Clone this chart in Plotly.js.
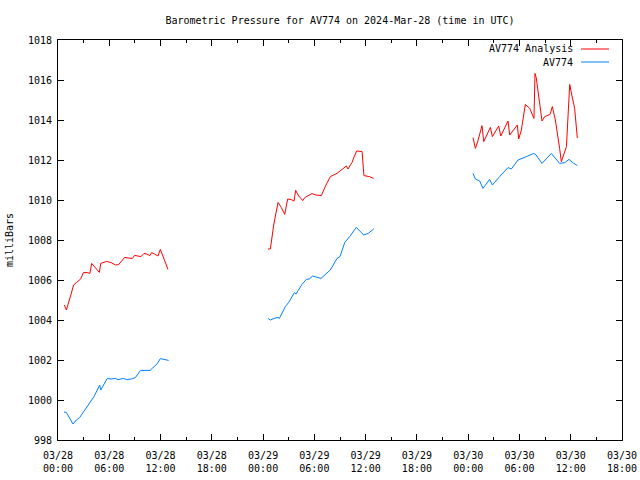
<!DOCTYPE html>
<html>
<head>
<meta charset="utf-8">
<script src="https://cdn.plot.ly/plotly-3.0.1.min.js"></script>
<style>html,body{margin:0;padding:0;background:#fff;}#chart{width:640px;height:480px;}</style>
</head>
<body>
<div id="chart"></div>
<script>
// Hours after 2024-03-28 00:00 UTC, and pressure values (mbar)
var redHours1 = [0.74,0.98,1.4,1.83,2.15,2.65,2.97,3.4,3.74,3.94,4.3,4.84,5.0,5.7,6.2,6.75,7.1,7.5,7.8,8.2,8.7,8.97,9.4,9.7,10.06,10.4,10.75,10.96,11.3,11.7,11.98,12.3,12.87];
var redVals1  = [1004.75,1004.5,1005.1,1005.75,1005.87,1006.05,1006.37,1006.37,1006.33,1006.83,1006.65,1006.38,1006.83,1006.93,1006.87,1006.75,1006.77,1006.95,1007.13,1007.1,1007.08,1007.23,1007.2,1007.17,1007.33,1007.3,1007.22,1007.37,1007.3,1007.2,1007.53,1007.2,1006.53];
var redHours2 = [24.58,24.85,25.24,25.75,26.14,26.53,26.88,27.3,27.62,27.81,28.17,28.64,28.87,29.3,29.72,30.2,30.82,31.3,31.87,32.65,33.24,33.74,33.94,34.41,34.6,34.95,35.58,35.8,36.43,36.94];
var redVals2  = [1007.55,1007.55,1008.75,1009.88,1009.62,1009.28,1010.05,1010.02,1009.95,1010.48,1010.2,1009.97,1010.12,1010.22,1010.32,1010.25,1010.22,1010.7,1011.17,1011.33,1011.55,1011.7,1011.55,1011.88,1012.1,1012.45,1012.42,1011.22,1011.17,1011.08];
var redHours3 = [48.57,48.84,49.1,49.62,49.82,50.6,50.83,51.57,51.81,52.66,52.86,53.75,53.91,54.22,54.69,55.2,55.7,55.82,55.97,56.29,56.64,56.96,57.58,57.85,58.2,58.7,58.9,59.5,59.88,60.1,60.46,60.77];
var redVals3  = [1013.12,1012.58,1012.9,1013.72,1012.92,1013.63,1013.17,1013.7,1013.2,1013.95,1013.25,1013.75,1013.05,1013.5,1014.78,1014.58,1014.08,1016.33,1016.1,1015.08,1013.95,1014.17,1014.28,1014.67,1014.0,1012.58,1011.92,1012.67,1015.78,1015.3,1014.58,1013.1];

var blueHours1 = [0.70,0.98,1.76,2.15,2.53,3.12,3.7,4.21,4.6,4.88,5.0,5.46,5.77,6.2,6.71,7.02,7.68,8.0,8.58,9.05,9.67,10.77,11.31,11.62,11.98,12.3,12.95];
var blueVals1  = [999.4,999.38,998.8,999.0,999.12,999.5,999.83,1000.17,1000.5,1000.75,1000.5,1000.88,1001.08,1001.05,1001.08,1001.02,1001.08,1001.02,1001.05,1001.12,1001.48,1001.48,1001.72,1001.82,1002.07,1002.03,1001.98];
var blueHours2 = [24.58,24.85,25.3,25.75,25.9,26.6,27.0,27.66,27.85,28.55,29.06,29.4,29.8,30.3,30.78,31.87,32.65,33.0,33.55,34.13,34.91,35.77,36.3,36.94];
var blueVals2  = [1004.08,1004.0,1004.08,1004.13,1004.08,1004.67,1004.88,1005.37,1005.3,1005.78,1006.03,1006.05,1006.2,1006.12,1006.08,1006.5,1007.08,1007.17,1007.87,1008.17,1008.63,1008.25,1008.33,1008.55];
var blueHours3 = [48.57,48.84,49.35,49.73,50.51,50.83,51.68,52.66,53.05,53.83,54.81,55.67,55.95,56.64,57.73,58.1,58.7,59.3,59.8,60.3,60.77];
var blueVals3  = [1011.33,1011.05,1010.95,1010.58,1011.03,1010.75,1011.17,1011.62,1011.55,1012.0,1012.17,1012.33,1012.25,1011.83,1012.33,1012.15,1011.83,1011.87,1012.03,1011.85,1011.72];

var seriesNames = ["AV774 Analysis", "AV774"];
var titleText = "Barometric Pressure for AV774 on 2024-Mar-28 (time in UTC)";

var BASE = Date.UTC(2024, 2, 28, 0, 0, 0);
function toDate(h) {
  if (h === null) return null;
  var d = new Date(BASE + Math.round(h * 3600000));
  return d.toISOString().slice(0, 19).replace("T", " ");
}
function joinSegs(segs) {
  var out = [];
  segs.forEach(function (s, i) { if (i > 0) out.push(null); out = out.concat(s); });
  return out;
}

var redX = joinSegs([redHours1, redHours2, redHours3]).map(toDate);
var redY = joinSegs([redVals1, redVals2, redVals3]);
var blueX = joinSegs([blueHours1, blueHours2, blueHours3]).map(toDate);
var blueY = joinSegs([blueVals1, blueVals2, blueVals3]);

var FONT = "DejaVu Sans Mono, monospace";
var RED = "#ff0000", BLUE = "#0080ff";

var traces = [
  {x: redX, y: redY, type: "scatter", mode: "lines", name: seriesNames[0],
   line: {color: RED, width: 1}, connectgaps: false, showlegend: false},
  {x: blueX, y: blueY, type: "scatter", mode: "lines", name: seriesNames[1],
   line: {color: BLUE, width: 1}, connectgaps: false, showlegend: false}
];

var layout = {
  width: 640, height: 480,
  margin: {l: 58, r: 18, t: 40, b: 40},
  paper_bgcolor: "#fff", plot_bgcolor: "#fff",
  font: {family: FONT, size: 10, color: "#000"},
  title: {text: titleText, font: {family: FONT, size: 10, color: "#000"},
          x: 0.5, xref: "paper", y: 1 - 20 / 480, yref: "container", yanchor: "middle"},
  xaxis: {
    type: "date",
    range: ["2024-03-28 00:00", "2024-03-30 18:00"],
    tick0: "2024-03-28 00:00", dtick: 6 * 3600000,
    tickformat: "%m/%d<br>%H:%M",
    ticks: "inside", ticklen: 6, tickcolor: "#000",
    ticklabelstandoff: 6,
    minor: {ticks: "inside", ticklen: 3, dtick: 3 * 3600000, tickcolor: "#000"},
    showline: true, linecolor: "#000", linewidth: 1, mirror: "allticks",
    showgrid: false, zeroline: false,
    tickfont: {family: FONT, size: 10, color: "#000"}
  },
  yaxis: {
    range: [998, 1018], dtick: 2, tick0: 998,
    ticks: "inside", ticklen: 6, tickcolor: "#000",
    ticklabelstandoff: 3,
    showline: true, linecolor: "#000", linewidth: 1, mirror: "allticks",
    showgrid: false, zeroline: false,
    tickfont: {family: FONT, size: 10, color: "#000"},
    title: {text: "milliBars", font: {family: FONT, size: 10, color: "#000"}, standoff: 12}
  },
  annotations: [
    {xref: "paper", yref: "paper", x: (575 - 58) / 564, y: (440 - 49) / 400, xanchor: "right", yanchor: "middle",
     text: seriesNames[0], showarrow: false, font: {family: FONT, size: 10, color: "#000"}},
    {xref: "paper", yref: "paper", x: (575 - 58) / 564, y: (440 - 62) / 400, xanchor: "right", yanchor: "middle",
     text: seriesNames[1], showarrow: false, font: {family: FONT, size: 10, color: "#000"}}
  ],
  shapes: [
    {type: "line", xref: "paper", yref: "paper", x0: (581 - 58) / 564, x1: (609 - 58) / 564,
     y0: (440 - 49) / 400, y1: (440 - 49) / 400, line: {color: RED, width: 1}},
    {type: "line", xref: "paper", yref: "paper", x0: (581 - 58) / 564, x1: (609 - 58) / 564,
     y0: (440 - 62) / 400, y1: (440 - 62) / 400, line: {color: BLUE, width: 1}}
  ]
};

Plotly.newPlot("chart", traces, layout, {staticPlot: true, displayModeBar: false});
</script>
</body>
</html>
